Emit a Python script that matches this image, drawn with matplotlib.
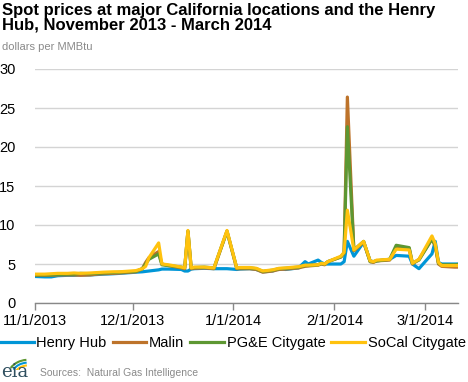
import matplotlib
matplotlib.use("Agg")
import matplotlib.pyplot as plt
import matplotlib.dates as mdates
from matplotlib.lines import Line2D
from matplotlib.patches import Arc
import datetime as dt

plt.rcParams['font.family'] = ['Liberation Sans', 'DejaVu Sans']

dates_str = [
    "2013-11-01", "2013-11-04", "2013-11-06", "2013-11-08", "2013-11-11", "2013-11-13",
    "2013-11-15", "2013-11-18", "2013-11-20", "2013-11-22", "2013-11-25", "2013-11-27",
    "2013-12-02", "2013-12-04", "2013-12-05", "2013-12-06", "2013-12-09", "2013-12-10",
    "2013-12-12", "2013-12-16", "2013-12-17", "2013-12-18", "2013-12-19", "2013-12-20",
    "2013-12-23", "2013-12-26", "2013-12-30", "2014-01-02", "2014-01-03", "2014-01-06",
    "2014-01-08", "2014-01-10", "2014-01-13", "2014-01-15", "2014-01-17", "2014-01-21",
    "2014-01-23", "2014-01-24", "2014-01-27", "2014-01-28", "2014-01-29", "2014-01-30",
    "2014-02-03", "2014-02-04", "2014-02-05", "2014-02-07", "2014-02-10", "2014-02-12",
    "2014-02-13", "2014-02-14", "2014-02-18", "2014-02-20", "2014-02-24", "2014-02-25",
    "2014-02-27", "2014-03-03", "2014-03-04", "2014-03-05", "2014-03-06", "2014-03-10",
    "2014-03-11",
]

henry_hub = [3.40, 3.35, 3.35, 3.50, 3.55, 3.55, 3.60, 3.60, 3.65, 3.70, 3.75, 3.80,
             3.95, 4.00, 4.05, 4.10, 4.25, 4.35, 4.35, 4.30, 4.10, 4.10, 4.35, 4.40,
             4.45, 4.40, 4.40, 4.30, 4.35, 4.40, 4.30, 4.00, 4.10, 4.40, 4.30, 4.50,
             5.30, 5.00, 5.50, 5.20, 5.00, 5.00, 5.00, 5.30, 7.90, 6.00, 7.80, 5.40,
             5.30, 5.40, 5.60, 6.10, 6.00, 5.00, 4.40, 6.30, 7.90, 5.20, 5.00, 5.00,
             5.00]
malin = [3.55, 3.55, 3.55, 3.60, 3.60, 3.60, 3.55, 3.60, 3.70, 3.75, 3.80, 3.85,
         4.00, 4.40, 5.20, 5.80, 6.60, 5.00, 4.80, 4.50, 4.40, 9.20, 4.40, 4.45,
         4.50, 4.40, 9.20, 4.40, 4.40, 4.40, 4.30, 3.95, 4.10, 4.30, 4.35, 4.50,
         4.70, 4.75, 4.85, 5.00, 4.90, 5.30, 5.90, 6.40, 26.40, 6.70, 7.80, 5.30,
         5.20, 5.40, 5.50, 7.10, 7.00, 5.00, 5.60, 8.20, 7.30, 5.00, 4.70, 4.60,
         4.60]
pge_citygate = [3.60, 3.60, 3.60, 3.65, 3.70, 3.70, 3.80, 3.75, 3.80, 3.85, 3.90, 3.95,
                4.05, 4.40, 5.00, 5.60, 6.30, 4.90, 4.80, 4.60, 4.50, 9.20, 4.50, 4.55,
                4.60, 4.50, 9.20, 4.50, 4.50, 4.50, 4.40, 4.05, 4.20, 4.40, 4.45, 4.60,
                4.80, 4.80, 4.90, 5.05, 5.00, 5.30, 5.90, 6.40, 22.60, 6.80, 7.90, 5.30,
                5.30, 5.40, 5.60, 7.40, 7.10, 5.10, 5.50, 8.20, 7.40, 5.10, 4.90, 4.90,
                4.95]
socal_citygate = [3.70, 3.70, 3.75, 3.80, 3.80, 3.85, 3.80, 3.85, 3.90, 3.95, 4.00, 4.00,
                  4.15, 4.40, 4.70, 5.80, 7.70, 5.00, 4.90, 4.60, 4.50, 9.30, 4.50, 4.60,
                  4.60, 4.50, 9.30, 4.50, 4.55, 4.55, 4.45, 4.10, 4.25, 4.45, 4.50, 4.65,
                  4.85, 4.85, 4.90, 5.10, 5.00, 5.30, 6.00, 6.50, 11.90, 6.80, 7.90, 5.40,
                  5.30, 5.50, 5.60, 6.90, 6.80, 5.10, 5.60, 8.60, 7.60, 5.20, 4.80, 4.80,
                  4.80]

series_names = ["Henry Hub", "Malin", "PG&E Citygate", "SoCal Citygate"]
series_colors = ["#0096D7", "#BD732A", "#5D9732", "#FFC20E"]
tick_dates_str = ["2013-11-01", "2013-12-01", "2014-01-01", "2014-02-01", "2014-03-01"]
tick_labels = ["11/1/2013", "12/1/2013", "1/1/2014", "2/1/2014", "3/1/2014"]
y_ticks = [0, 5, 10, 15, 20, 25, 30]

dates = [dt.datetime.strptime(s, "%Y-%m-%d") for s in dates_str]
tick_dates = [dt.datetime.strptime(s, "%Y-%m-%d") for s in tick_dates_str]

W, H = 468, 382
fig = plt.figure(figsize=(W / 100, H / 100), dpi=100)
ax = fig.add_axes([35 / W, 1 - 303 / H, (458 - 35) / W, (303 - 69) / H])

for vals, name, col in zip([henry_hub, malin, pge_citygate, socal_citygate], series_names, series_colors):
    ax.plot(dates, vals, color=col, lw=2.3, label=name, solid_joinstyle='round')

ax.set_ylim(0, 30)
ax.set_xlim(dt.datetime(2013, 11, 1), dt.datetime(2014, 3, 11))
ax.set_yticks(y_ticks)
ax.set_yticklabels([str(v) for v in y_ticks], fontsize=10.5, color="#000000")
ax.set_xticks(tick_dates)
ax.set_xticklabels(tick_labels, fontsize=10.5, color="#000000")
ax.tick_params(axis='y', length=0, pad=14)
ax.tick_params(axis='x', length=5, width=1, color="#888888", direction='out', pad=3)
for s in ['left', 'right', 'top']:
    ax.spines[s].set_visible(False)
ax.spines['bottom'].set_color("#888888")
ax.spines['bottom'].set_linewidth(1)
ax.grid(axis='y', color="#D4D4D4", lw=1)
ax.set_axisbelow(True)

# Titles
fig.text(2 / W, 1 - 3 / H, "Spot prices at major California locations and the Henry\nHub, November 2013 - March 2014",
         fontsize=12, fontweight='bold', va='top', ha='left', linespacing=1.0)
fig.text(2 / W, 1 - 42 / H, "dollars per MMBtu", fontsize=8, color="#8A8A8A", va='top', ha='left')

# Legend
handles = [Line2D([0], [0], color=c, lw=2.3) for c in series_colors]
fig.legend(handles, series_names, loc='center left', bbox_to_anchor=(0.0, 1 - 343 / H), ncol=4,
           frameon=False, fontsize=10.5, handlelength=2.3, handletextpad=0.2, columnspacing=0.4,
           borderaxespad=0, borderpad=0)

# Source
fig.text(40 / W, 1 - 373 / H, "Sources:  Natural Gas Intelligence", fontsize=7.5, color="#8A8A8A",
         va='center', ha='left')

# eia logo approximation
fig.text(1 / W, 1 - 372 / H, "eia", fontsize=13, color="#2F4F5F", family='DejaVu Serif',
         va='center', ha='left')
lax = fig.add_axes([0, 1 - 370 / H, 30 / W, 16 / H])
lax.set_xlim(0, 30)
lax.set_ylim(0, 16)
lax.axis('off')
for r, c in zip([26, 22, 18], ["#5D9732", "#0096D7", "#FFC20E"]):
    lax.add_patch(Arc((28, -8), r * 1.6, r * 1.4, theta1=95, theta2=150, color=c, lw=1.5))

fig.savefig("out.png", dpi=100)
